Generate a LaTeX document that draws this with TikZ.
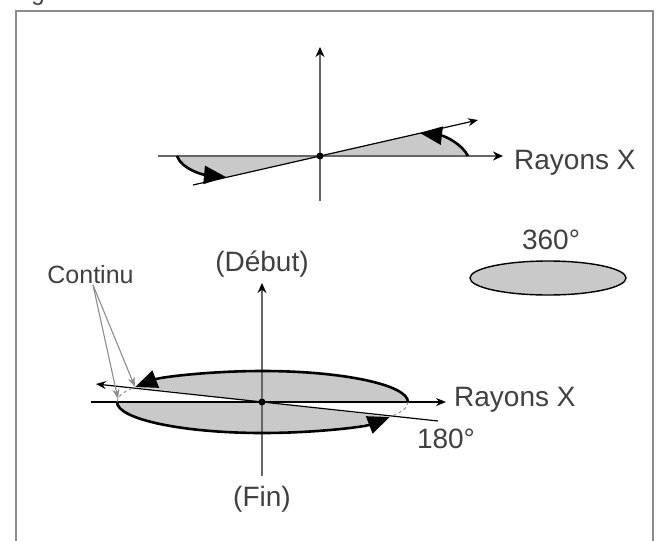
\documentclass[tikz,border=0pt]{standalone}
\usepackage{fontspec}
\setmainfont{Liberation Sans}
\usepackage{xcolor}
\usetikzlibrary{arrows.meta, shapes.geometric}
\definecolor{cInk}{HTML}{404040}
\definecolor{cAxis}{HTML}{666666}
\definecolor{cEdge}{HTML}{8C8C8C}
\definecolor{cFill}{HTML}{C9C9C9}
\tikzset{
  lbl/.style={font=\fontsize{28}{32}\selectfont, text=cInk, inner sep=0pt},
  axis/.style={-{Stealth[length=10pt, width=9pt, black]}, draw=cAxis, line width=1.6pt},
  ray/.style={-{Stealth[length=10pt, width=8pt, black]}, draw=black, line width=1.2pt},
  swing/.style={-{Triangle[length=22pt, width=18pt]}, draw=black, line width=2.6pt},
  leader/.style={-{Stealth[length=10pt, width=7pt]}, draw=cEdge, line width=1.1pt},
  seam/.style={draw=cEdge, line width=1pt, dashed},
  wedge/.style={fill=cFill, draw=none},
  pivot/.style={circle, fill=black, inner sep=0pt, minimum size=7pt},
}
\begin{document}
\begin{tikzpicture}[x=1pt, y=-1pt]
\useasboundingbox (0,0) rectangle (662,541);
\clip (0,0) rectangle (662,541);
% frame
\coordinate (fbl) at (16,541); \coordinate (ftl) at (16,11);
\coordinate (ftr) at (653,11); \coordinate (fbr) at (653,541);
\draw[draw=cEdge, line width=1.5pt] (fbl) -- (ftl) -- (ftr) -- (fbr);
\node[font=\fontsize{24}{28}\selectfont, text=cInk, inner sep=0pt, anchor=base] (fig) at (38,0) {g};
% small angle panel
\coordinate (aO) at (320,156);
\coordinate (aT) at (320,47); \coordinate (aB) at (320,201);
\coordinate (aL) at (158,156); \coordinate (aR) at (503,156);
\coordinate (aS) at (193,185); \coordinate (aE) at (478,120);
\coordinate (a1) at (468,156); \coordinate (a2) at (420,133);
\coordinate (a3) at (177,156); \coordinate (a4) at (226,177);
\fill[wedge] (aO) -- (a1) .. controls (462,144) and (445,136) .. (a2) -- cycle;
\fill[wedge] (aO) -- (a3) .. controls (182,170) and (205,175) .. (a4) -- cycle;
\draw[axis] (aB) -- (aT);
\draw[axis] (aL) -- (aR);
\draw[ray] (aS) -- (aE);
\draw[swing] (a1) .. controls (462,144) and (445,136) .. (a2);
\draw[swing] (a3) .. controls (182,170) and (205,175) .. (a4);
\node[pivot] (aP) at (aO) {};
\node[lbl, anchor=west] (xa) at (514,163) {Rayons X};
% half turn panel
\coordinate (bO) at (262,402);
\coordinate (bT) at (262,283); \coordinate (bB) at (262,476);
\coordinate (bL) at (91,402); \coordinate (bR) at (446,402);
\coordinate (bS) at (438,421); \coordinate (bE) at (96,384);
\coordinate (b1) at (408,402); \coordinate (b2) at (135,387);
\coordinate (b3) at (117,402); \coordinate (b4) at (390,417);
\fill[wedge] (bO) -- (b1) arc[start angle=0, end angle=-151, x radius=145.5, y radius=31] -- cycle;
\fill[wedge] (bO) -- (b3) arc[start angle=180, end angle=29, x radius=145.5, y radius=31] -- cycle;
\draw[axis] (bB) -- (bT);
\draw[ray] (bL) -- (bR);
\draw[ray] (bS) -- (bE);
\draw[seam] (b3) arc[start angle=180, end angle=209, x radius=145.5, y radius=31];
\draw[seam] (b1) arc[start angle=0, end angle=29, x radius=145.5, y radius=31];
\draw[swing] (b1) arc[start angle=0, end angle=-151, x radius=145.5, y radius=31];
\draw[swing] (b3) arc[start angle=180, end angle=29, x radius=145.5, y radius=31];
\node[pivot] (bP) at (bO) {};
\node[lbl] (deb) at (262,264) {(Début)};
\node[lbl] (fin) at (262,499) {(Fin)};
\node[lbl, anchor=west] (xb) at (454,400) {Rayons X};
\node[lbl] (half) at (446,439) {180°};
% leaders
\node[lbl, font=\fontsize{25}{30}\selectfont] (cont) at (90.5,275) {Continu};
\coordinate (cS) at (93,285); \coordinate (cE) at (118,399);
\draw[leader] (cS) -- (b2);
\draw[leader] (cS) -- (cE);
% full turn
\node[lbl] (full) at (551,240) {360°};
\node[ellipse, draw=black, line width=1.4pt, fill=cFill, minimum width=156pt, minimum height=34pt, inner sep=0pt] (disc) at (548,278) {};
\end{tikzpicture}
\end{document}
